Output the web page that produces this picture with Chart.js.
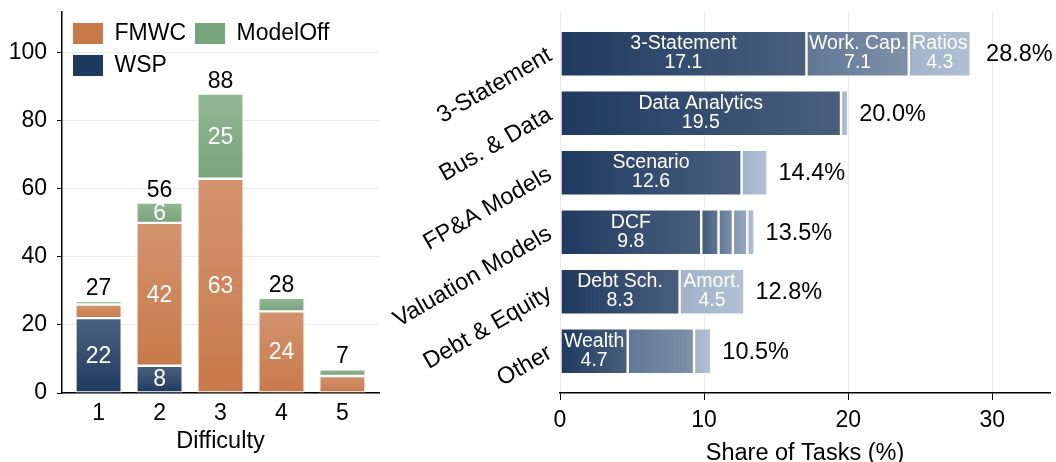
<!DOCTYPE html>
<html>
<head>
<meta charset="utf-8">
<script src="https://cdn.jsdelivr.net/npm/chart.js@4.4.1/dist/chart.umd.min.js"></script>
<style>
  body { margin: 0; background: #fff; }
  #wrap { position: relative; width: 1056px; height: 462px; }
  canvas { position: absolute; }
  #difficultyChart { left: 0; top: 0; }
  #shareChart { left: 370px; top: 0; }
  #difficultyLegend { left: 62px; top: 13px; }
</style>
</head>
<body>
<div id="wrap">
  <canvas id="difficultyChart" width="400" height="462"></canvas>
  <canvas id="shareChart" width="686" height="462"></canvas>
  <canvas id="difficultyLegend" width="300" height="180"></canvas>
</div>
<script>
// ---- left panel: tasks per difficulty level ----
const difficulty = [1, 2, 3, 4, 5];
const wsp = [22, 8, null, null, null];
const fmwc = [4, 42, 63, 24, 5];
const modelOff = [1, 6, 25, 4, 2];
const difficultyTotals = [27, 56, 88, 28, 7];
const difficultyTicks = [0, 20, 40, 60, 80, 100];

// ---- right panel: share of tasks per category (segments left to right) ----
const categories = ['3-Statement', 'Bus. & Data', 'FP&A Models', 'Valuation Models', 'Debt & Equity', 'Other'];
const seg1 = [17.1, 19.5, 12.6, 9.8, 8.3, 4.7];
const seg2 = [7.1, 0.5, 1.8, 1.2, 4.5, 4.6];
const seg3 = [4.3, null, null, 1.0, null, 1.2];
const seg4 = [null, null, null, 1.0, null, null];
const seg5 = [null, null, null, 0.5, null, null];
const seg1Names = ['3-Statement', 'Data Analytics', 'Scenario', 'DCF', 'Debt Sch.', 'Wealth'];
const seg2Names = ['Work. Cap.', '', '', '', 'Amort.', ''];
const seg3Names = ['Ratios', '', '', '', '', ''];
const shareTotals = [28.8, 20.0, 14.4, 13.5, 12.8, 10.5];
const shareTicks = [0, 10, 20, 30];

const FONT = '"Liberation Sans", Arial, sans-serif';
const NAVY = [31, 58, 96];
const LIGHT = [160, 179, 202];
const ORANGE = [200, 121, 74];
const GREEN = [120, 165, 123];
const WHITE = [255, 255, 255];

function mix(a, b, t) {
    return a.map((v, k) => Math.round(v + (b[k] - v) * t));
}
function rgb(c) { return 'rgb(' + c.join(',') + ')'; }

// vertical gradient for one stacked segment of the left panel
function vertGradient(base, series) {
    return function (ctx) {
        if (ctx.type !== 'data') return rgb(base);
        const chart = ctx.chart;
        const ys = chart.scales.y;
        const i = ctx.dataIndex;
        let start = 0;
        for (let k = 0; k < ctx.datasetIndex; k++) start += series[k][i] || 0;
        const end = start + (series[ctx.datasetIndex][i] || 0);
        const y0 = ys.getPixelForValue(start), y1 = ys.getPixelForValue(end);
        if (!isFinite(y0) || !isFinite(y1) || y0 === y1) return rgb(base);
        const g = chart.ctx.createLinearGradient(0, y0, 0, y1);
        g.addColorStop(0, rgb(base));
        g.addColorStop(1, rgb(mix(base, WHITE, 0.2)));
        return g;
    };
}

const leftSeries = [wsp, fmwc, modelOff];
const leftNames = ['WSP', 'FMWC', 'ModelOff'];
const leftBase = [NAVY, ORANGE, GREEN];

const leftLabels = {
    id: 'leftLabels',
    afterDatasetsDraw(chart) {
        const c = chart.ctx;
        const xs = chart.scales.x, ys = chart.scales.y;
        c.save();
        c.font = '23px ' + FONT;
        c.textAlign = 'center';
        chart.data.datasets.forEach((ds, j) => {
            chart.getDatasetMeta(j).data.forEach((el, i) => {
                const v = leftSeries[j][i];
                if (v > 5) {
                    c.fillStyle = '#fff';
                    c.textBaseline = 'middle';
                    c.fillText(String(v), el.x, (el.y + el.base) / 2 + 1);
                }
            });
        });
        difficultyTotals.forEach((t, i) => {
            c.fillStyle = '#000';
            c.textBaseline = 'alphabetic';
            c.fillText(String(t), xs.getPixelForValue(difficulty[i]), ys.getPixelForValue(t) - 6);
        });
        c.restore();
    }
};

new Chart(document.getElementById('difficultyChart').getContext('2d'), {
    type: 'bar',
    data: {
        datasets: leftSeries.map((s, j) => ({
            label: leftNames[j],
            data: difficulty.map((d, i) => ({ x: d, y: s[i] })),
            backgroundColor: vertGradient(leftBase[j], leftSeries)
        }))
    },
    options: {
        responsive: false,
        animation: false,
        layout: { padding: { top: 12, right: 21, left: 0, bottom: 0 } },
        datasets: {
            bar: { borderColor: '#fff', borderWidth: 1.2, borderSkipped: false, categoryPercentage: 1, barPercentage: 0.76 }
        },
        plugins: { legend: { display: false }, tooltip: { enabled: false } },
        scales: {
            x: {
                type: 'linear',
                offset: false,
                min: 0.4,
                max: 5.6,
                stacked: true,
                afterBuildTicks: s => { s.ticks = difficulty.map(v => ({ value: v })); },
                afterFit: s => { s.height = 69; s.paddingLeft = 0; s.paddingRight = 0; },
                grid: { display: false, drawTicks: false, offset: false },
                border: { color: '#000', width: 1.5 },
                ticks: { font: { family: FONT, size: 23 }, color: '#000', padding: 7 },
                title: { display: true, text: 'Difficulty', font: { family: FONT, size: 23.5, lineHeight: 1 }, color: '#000', padding: { top: 0, bottom: 9 } }
            },
            y: {
                min: 0,
                max: 112,
                stacked: true,
                afterBuildTicks: s => { s.ticks = difficultyTicks.map(v => ({ value: v })); },
                afterFit: s => { s.width = 62; s.paddingTop = 0; s.paddingBottom = 0; },
                grid: { color: '#ebebeb', tickColor: '#000', tickLength: 5, lineWidth: 1 },
                border: { color: '#000', width: 1.5 },
                ticks: { font: { family: FONT, size: 23 }, color: '#000', padding: 10 }
            }
        }
    },
    plugins: [leftLabels]
});

// legend of the left panel, drawn by Chart.js on its own small canvas over the plot
const legendOrder = ['FMWC', 'ModelOff', 'WSP'];
new Chart(document.getElementById('difficultyLegend').getContext('2d'), {
    type: 'bar',
    data: {
        labels: [],
        datasets: leftNames.map((n, j) => ({ label: n, data: [], backgroundColor: rgb(leftBase[j]), borderWidth: 0 }))
    },
    options: {
        responsive: false,
        animation: false,
        layout: { padding: { left: 2, top: 0 } },
        scales: { x: { display: false }, y: { display: false } },
        plugins: {
            tooltip: { enabled: false },
            legend: {
                position: 'top',
                align: 'start',
                onClick: null,
                labels: {
                    font: { family: FONT, size: 23 },
                    color: '#000',
                    boxWidth: 30,
                    boxHeight: 21,
                    padding: 9,
                    sort: (a, b) => legendOrder.indexOf(a.text) - legendOrder.indexOf(b.text)
                }
            }
        }
    }
});

// ---- right panel ----
const rightSeries = [seg1, seg2, seg3, seg4, seg5];
const rightNames = [seg1Names, seg2Names, seg3Names];

function segCount(i) {
    return rightSeries.filter(s => s[i] != null).length;
}

function horizGradient(ctx) {
    const j = ctx.datasetIndex;
    if (ctx.type !== 'data') return rgb(mix(NAVY, LIGHT, j / 4));
    const i = ctx.dataIndex;
    const n = segCount(i);
    const base = mix(NAVY, LIGHT, n > 1 ? j / (n - 1) : 0);
    const xs = ctx.chart.scales.x;
    let start = 0;
    for (let k = 0; k < j; k++) start += rightSeries[k][i] || 0;
    const end = start + (rightSeries[j][i] || 0);
    const x0 = xs.getPixelForValue(start), x1 = xs.getPixelForValue(end);
    if (!isFinite(x0) || !isFinite(x1) || x0 === x1) return rgb(base);
    const g = ctx.chart.ctx.createLinearGradient(x0, 0, x1, 0);
    g.addColorStop(0, rgb(base));
    g.addColorStop(1, rgb(mix(base, WHITE, 0.19)));
    return g;
}

const rightLabels = {
    id: 'rightLabels',
    afterDatasetsDraw(chart) {
        const c = chart.ctx;
        const xs = chart.scales.x, ys = chart.scales.y;
        c.save();
        c.textAlign = 'center';
        c.textBaseline = 'middle';
        c.font = '19.5px ' + FONT;
        c.fillStyle = '#fff';
        rightNames.forEach((names, j) => {
            chart.getDatasetMeta(j).data.forEach((el, i) => {
                if (!names[i]) return;
                const cx = (el.x + el.base) / 2;
                c.fillText(names[i], cx, el.y - 10);
                c.fillText(rightSeries[j][i].toFixed(1), cx, el.y + 9);
            });
        });
        c.font = '23.5px ' + FONT;
        c.fillStyle = '#000';
        c.textAlign = 'left';
        shareTotals.forEach((t, i) => {
            c.fillText(t.toFixed(1) + '%', xs.getPixelForValue(t) + 11, ys.getPixelForValue(i) + 1);
        });
        c.restore();
    }
};

new Chart(document.getElementById('shareChart').getContext('2d'), {
    type: 'bar',
    data: {
        datasets: rightSeries.map((s, j) => ({
            label: 'segment ' + (j + 1),
            data: s.map((v, i) => ({ x: v, y: i })),
            backgroundColor: horizGradient
        }))
    },
    options: {
        indexAxis: 'y',
        responsive: false,
        animation: false,
        layout: { padding: { top: 12, right: 6, left: 0, bottom: 0 } },
        datasets: {
            bar: { borderColor: '#fff', borderWidth: 1.2, borderSkipped: false, categoryPercentage: 1, barPercentage: 0.77 }
        },
        plugins: { legend: { display: false }, tooltip: { enabled: false } },
        scales: {
            x: {
                min: 0,
                max: 34,
                stacked: true,
                afterBuildTicks: s => { s.ticks = shareTicks.map(v => ({ value: v })); },
                afterFit: s => { s.height = 69; s.paddingLeft = 0; s.paddingRight = 0; },
                grid: { color: '#e8e8e8', tickColor: '#000', tickLength: 7, lineWidth: 1 },
                border: { color: '#000', width: 1.5 },
                ticks: { font: { family: FONT, size: 23 }, color: '#000', padding: 7 },
                title: { display: true, text: 'Share of Tasks (%)', font: { family: FONT, size: 23.5, lineHeight: 1 }, color: '#000', padding: { top: 0, bottom: -3 } }
            },
            y: {
                type: 'linear',
                offset: false,
                min: -0.7,
                max: 5.7,
                reverse: true,
                stacked: true,
                afterBuildTicks: s => { s.ticks = categories.map((_, i) => ({ value: i })); },
                afterFit: s => { s.width = 190; s.paddingTop = 0; s.paddingBottom = 0; },
                grid: { display: false, offset: false },
                border: { display: false },
                ticks: {
                    font: { family: FONT, size: 23.5 },
                    color: '#000',
                    padding: 2,
                    minRotation: 30,
                    maxRotation: 30,
                    callback: v => categories[v]
                }
            }
        }
    },
    plugins: [rightLabels]
});
</script>
</body>
</html>
